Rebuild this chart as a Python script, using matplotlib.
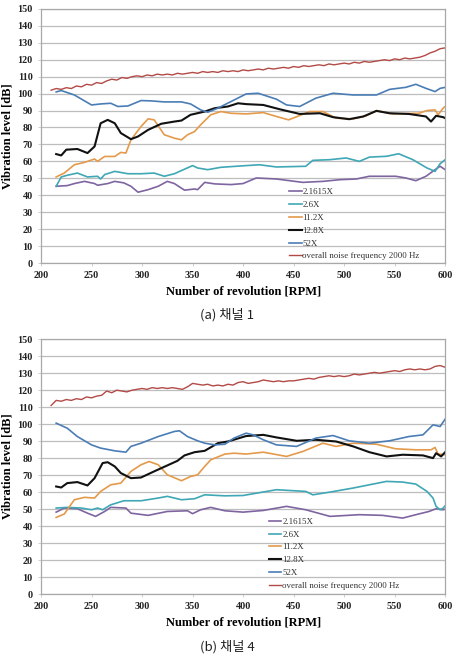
import numpy as np
import matplotlib
matplotlib.use('Agg')
import matplotlib.pyplot as plt

# ---------------- data ----------------
labels = ['2.1615X', '2.6X', '11.2X', '12.8X', '52X', 'overall noise frequency 2000 Hz']
colors = ['#7F65A0', '#3FA7B5', '#E49A4A', '#111111', '#4A7DB5', '#B24A46']

rpm_noise = np.arange(210, 601, 5)

# (a) channel 1
a_2x_rpm = [215, 226, 233, 243, 253, 256, 266, 273, 282, 289, 296, 306, 316, 325, 332, 342, 352, 355,
            362, 372, 388, 400, 413, 433, 459, 479, 496, 512, 525, 551, 561, 571, 581, 590, 595, 600]
a_2x_val = [45.3, 45.7, 46.9, 48.2, 46.9, 45.9, 46.9, 48.2, 47.3, 45.3, 41.8, 43.3, 45.3, 48.2, 46.9, 43.0, 43.7, 43.3,
            47.6, 46.7, 46.3, 46.9, 50.2, 49.6, 47.6, 48.2, 49.2, 49.6, 51.2, 51.2, 50.2, 48.6, 51.2, 55.1, 57.1, 55.1]

a_26x_rpm = [215, 220, 226, 236, 246, 256, 259, 263, 273, 286, 299, 312, 322, 332, 350, 355, 365, 378,
             403, 416, 433, 462, 469, 486, 502, 515, 525, 542, 554, 568, 582, 590, 595, 600]
a_26x_val = [45.3, 50.8, 51.8, 53.1, 50.8, 51.2, 49.6, 52.2, 54.1, 52.7, 52.7, 53.1, 51.2, 52.7, 57.5, 56.1, 55.1, 56.5,
             57.5, 58.0, 56.7, 57.1, 60.6, 61.0, 62.0, 60.0, 62.5, 63.0, 64.5, 61.0, 56.1, 54.1, 58.6, 61.0]

a_112x_rpm = [215, 223, 233, 243, 253, 256, 263, 273, 279, 284, 289, 299, 306, 312, 322, 332, 339, 345, 352, 358,
              368, 378, 388, 403, 420, 433, 445, 466, 479, 492, 509, 522, 532, 548, 574, 582, 590, 593, 598, 600]
a_112x_val = [50.8, 53.1, 58.0, 59.4, 61.4, 60.0, 62.9, 62.9, 65.3, 64.9, 72.7, 80.6, 85.1, 84.5, 75.7, 73.7, 72.7, 75.7, 77.6, 81.6,
              87.5, 89.4, 88.4, 88.0, 88.8, 86.5, 84.5, 89.4, 89.4, 85.5, 85.1, 86.9, 90.0, 88.0, 88.4, 90.0, 90.4, 87.5, 91.4, 92.4]

a_128x_rpm = [215, 220, 225, 236, 246, 253, 259, 266, 273, 279, 289, 296, 306, 319, 332, 339, 348, 362, 372,
              385, 395, 403, 420, 436, 456, 476, 489, 505, 519, 532, 545, 564, 581, 586, 591, 598, 600]
a_128x_val = [64.3, 63.5, 66.9, 67.3, 64.9, 68.8, 82.5, 84.5, 82.5, 76.7, 73.1, 74.7, 78.6, 82.2, 83.5, 84.1, 87.5, 89.4, 91.4,
              92.4, 94.3, 93.8, 93.3, 90.8, 88.0, 88.4, 86.1, 84.9, 86.5, 89.8, 88.4, 88.0, 86.5, 83.5, 86.9, 86.1, 85.5]

a_52x_rpm = [215, 220, 233, 250, 259, 269, 276, 286, 299, 309, 322, 339, 348, 358, 365, 375, 388,
             403, 415, 433, 443, 456, 472, 489, 509, 532, 545, 561, 571, 581, 590, 595, 600]
a_52x_val = [101.0, 101.8, 99.2, 93.3, 93.9, 94.3, 92.4, 92.7, 95.9, 95.7, 95.1, 95.1, 93.9, 90.4, 89.0, 91.4, 95.3,
             99.8, 100.2, 96.7, 93.3, 92.4, 97.3, 100.2, 99.2, 99.2, 102.5, 103.7, 105.5, 103.1, 101.2, 103.1, 103.7]

a_noise = [102.0, 103.0, 102.5, 103.5, 103.0, 104.5, 104.0, 105.5, 105.0, 106.5,
           106.0, 107.5, 108.5, 108.0, 109.5, 109.0, 110.0, 110.5, 110.0, 111.0,
           110.5, 111.5, 111.0, 111.5, 111.0, 112.0, 111.5, 112.0, 112.5, 112.0,
           113.0, 112.5, 113.0, 112.5, 113.5, 113.0, 113.5, 113.0, 114.0, 113.5,
           114.0, 114.5, 114.0, 115.0, 114.5, 115.0, 115.5, 115.0, 116.0, 115.5,
           116.5, 116.0, 116.5, 117.0, 116.5, 117.5, 117.0, 117.5, 118.0, 117.5,
           118.5, 118.0, 119.0, 118.5, 119.0, 119.5, 120.0, 119.5, 120.5, 120.0,
           121.0, 120.5, 121.0, 121.5, 122.5, 124.0, 125.0, 126.5, 127.0]

# (b) channel 4
b_2x_rpm = [215, 223, 236, 246, 254, 263, 269, 284, 289, 306, 325, 345, 350, 358, 368, 382, 400,
            420, 443, 462, 486, 515, 538, 558, 571, 584, 591, 598, 600]
b_2x_val = [48.2, 50.6, 50.2, 47.6, 45.7, 48.6, 51.0, 50.6, 47.6, 46.3, 48.6, 49.0, 47.3, 49.6, 51.0, 49.0, 48.2,
            49.2, 51.6, 49.6, 45.7, 46.7, 46.3, 44.7, 46.7, 48.6, 50.2, 49.6, 50.0]

b_26x_rpm = [215, 226, 240, 250, 256, 261, 269, 282, 299, 316, 325, 339, 352, 362, 382, 400,
             433, 462, 469, 486, 509, 525, 542, 558, 571, 582, 588, 591, 595, 598, 600]
b_26x_val = [50.6, 51.0, 50.6, 49.6, 50.6, 49.6, 52.5, 54.9, 54.9, 56.5, 57.5, 55.5, 56.1, 58.4, 57.8, 58.0,
             61.4, 60.4, 58.4, 60.0, 62.4, 64.3, 66.3, 65.9, 64.7, 60.4, 56.5, 51.6, 49.6, 50.6, 52.0]

b_112x_rpm = [215, 223, 233, 243, 253, 259, 269, 279, 289, 299, 307, 316, 325, 339, 348, 355, 362, 368,
              382, 391, 403, 420, 443, 459, 479, 492, 509, 532, 551, 571, 586, 590, 593, 600]
b_112x_val = [45.1, 47.1, 55.5, 56.9, 56.5, 60.4, 64.3, 65.3, 72.2, 76.1, 78.0, 76.1, 70.2, 66.7, 69.2, 70.2, 75.1, 79.0,
              82.4, 82.9, 82.4, 83.5, 81.0, 83.9, 88.8, 86.9, 88.8, 88.2, 85.5, 84.9, 84.9, 86.3, 82.4, 82.0]

b_128x_rpm = [215, 220, 226, 236, 246, 253, 261, 266, 273, 279, 289, 299, 312, 325, 335, 342, 352, 362,
              375, 385, 403, 420, 433, 453, 472, 492, 509, 525, 542, 558, 578, 588, 591, 596, 600]
b_128x_val = [63.3, 62.7, 65.3, 65.9, 63.9, 68.2, 77.1, 77.6, 75.1, 71.2, 68.2, 68.6, 72.2, 75.7, 78.4, 81.6, 83.5, 84.3,
              88.8, 89.8, 93.0, 93.7, 92.2, 90.2, 90.8, 89.8, 86.9, 83.5, 81.0, 82.0, 81.6, 80.0, 82.9, 81.0, 83.5]

b_52x_rpm = [215, 226, 236, 250, 259, 273, 284, 289, 299, 316, 332, 337, 345, 355, 362, 372, 382, 391,
             403, 410, 420, 433, 453, 472, 489, 505, 525, 545, 564, 578, 588, 595, 600]
b_52x_val = [100.6, 97.6, 92.7, 87.8, 85.9, 84.3, 83.5, 86.9, 88.8, 92.7, 95.7, 96.1, 92.7, 90.2, 88.8, 87.8, 88.2, 91.8,
             94.7, 93.7, 90.8, 87.8, 86.9, 91.8, 93.3, 90.2, 88.8, 90.2, 92.7, 93.7, 99.6, 98.6, 103.0]

b_noise = [111.0, 114.0, 113.5, 114.5, 114.0, 115.0, 114.5, 116.0, 115.5, 116.5,
           117.0, 119.5, 118.5, 120.0, 119.5, 119.0, 120.0, 120.5, 121.0, 120.5,
           121.5, 121.0, 121.5, 121.0, 121.5, 121.0, 120.5, 122.0, 124.0, 123.5,
           123.0, 123.5, 122.5, 123.0, 122.5, 123.5, 123.0, 124.5, 125.0, 124.0,
           124.5, 125.0, 126.0, 125.5, 125.0, 125.5, 125.0, 125.5, 125.5, 126.0,
           126.5, 127.0, 126.5, 127.5, 128.0, 128.5, 128.0, 128.5, 128.0, 128.5,
           129.5, 129.0, 129.5, 130.0, 130.5, 130.0, 130.5, 131.0, 131.5, 131.0,
           132.0, 132.5, 132.0, 132.5, 132.0, 132.5, 134.0, 134.5, 133.5]

captions = ['(a) 채널 1', '(b) 채널 4']

SERIF = 'Liberation Serif'


def draw_panel(ax, series, noise, leg_anchor):
    """draw one channel panel"""
    for (x, y), lab, col in zip(series, labels[:5], colors[:5]):
        lw = 1.5 if col == '#111111' else 1.2
        ax.plot(x, y, color=col, lw=lw, label=lab)
    ax.plot(rpm_noise, noise, color=colors[5], lw=1.0, label=labels[5])

    ax.set_xlim(200, 600)
    ax.set_ylim(0, 150)
    ax.set_xticks(range(200, 601, 50))
    ax.set_yticks(range(0, 151, 10))
    ax.yaxis.grid(True, color='#BDBDBD', lw=0.9)
    ax.set_axisbelow(True)
    for s in ax.spines.values():
        s.set_color('#A8A8A8')
        s.set_linewidth(0.9)
    ax.tick_params(axis='both', length=2, color='#C8C8C8', width=0.6, pad=4,
                   labelsize=7.3, labelcolor='#222222')
    for t in ax.get_xticklabels() + ax.get_yticklabels():
        t.set_fontfamily(SERIF)
        t.set_fontweight('bold')
    ax.set_xlabel('Number of revolution [RPM]', family=SERIF, fontweight='bold', fontsize=9, labelpad=4)
    ax.set_ylabel('Vibration level [dB]', family=SERIF, fontweight='bold', fontsize=9, labelpad=3)

    leg = ax.legend(loc='upper left', bbox_to_anchor=leg_anchor, frameon=False,
                    prop={'family': SERIF, 'size': 6.4}, handlelength=1.4, handletextpad=0.1,
                    labelspacing=0.52, borderpad=0, borderaxespad=0)
    for t in leg.get_texts():
        t.set_color('#333333')


fig = plt.figure(figsize=(4.64, 6.6), dpi=100)
ax1 = fig.add_axes([0.0884, 0.6015, 0.871, 0.385])
ax2 = fig.add_axes([0.0884, 0.1, 0.871, 0.386])

draw_panel(ax1, [(a_2x_rpm, a_2x_val), (a_26x_rpm, a_26x_val), (a_112x_rpm, a_112x_val),
                 (a_128x_rpm, a_128x_val), (a_52x_rpm, a_52x_val)], a_noise, (0.614, 0.295))
draw_panel(ax2, [(b_2x_rpm, b_2x_val), (b_26x_rpm, b_26x_val), (b_112x_rpm, b_112x_val),
                 (b_128x_rpm, b_128x_val), (b_52x_rpm, b_52x_val)], b_noise, (0.564, 0.30))

cjk = ['Noto Sans CJK KR', 'DejaVu Sans']
fig.text(0.49, 0.523, captions[0], ha='center', va='center', family=cjk, fontsize=9.5, color='#222222')
fig.text(0.49, 0.0197, captions[1], ha='center', va='center', family=cjk, fontsize=9.5, color='#222222')

fig.savefig('out.png', dpi=100)
